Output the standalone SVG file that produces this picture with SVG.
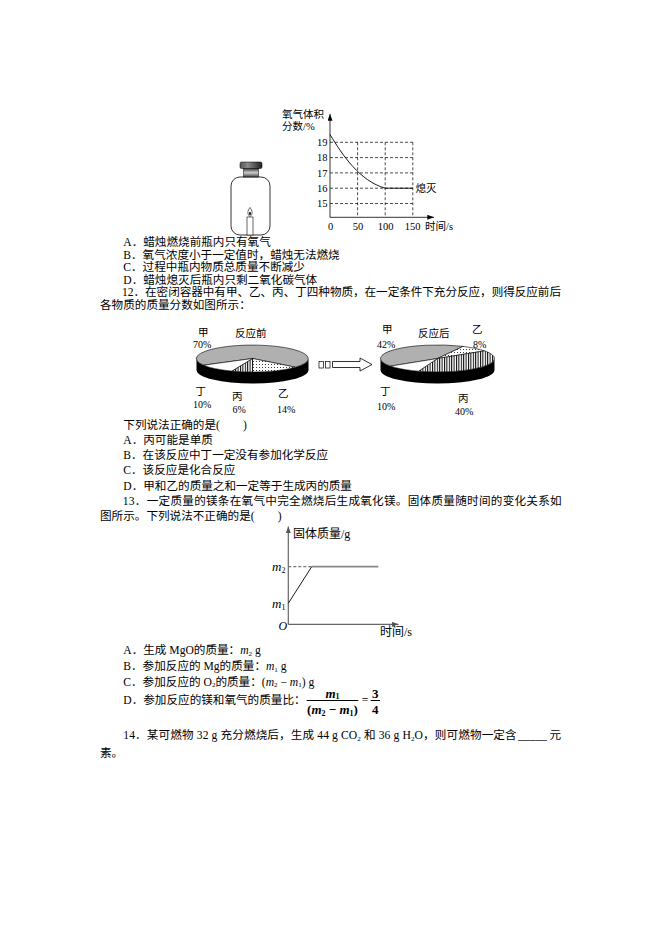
<svg xmlns="http://www.w3.org/2000/svg" width="661" height="935" viewBox="0 0 661 935">
<style>
.t{font-family:"Liberation Serif","Noto Sans CJK SC",serif;font-size:11.6px;fill:#000}
.s{font-family:"Liberation Serif","Noto Sans CJK SC",serif;font-size:10.5px;fill:#000}
.p{font-family:"Liberation Serif","Noto Sans CJK SC",serif;font-size:10px;fill:#000}
.c2{font-family:"Liberation Serif","Noto Sans CJK SC",serif;font-size:12px;fill:#000}
.f{font-family:"Liberation Serif","Noto Sans CJK SC",serif;font-size:13px;font-weight:bold;fill:#000}
.ax{stroke:#000;stroke-width:0.8;fill:none}
.grid{stroke:#000;stroke-width:0.7;stroke-dasharray:3 2;fill:none}
.ax2{stroke:#666;stroke-width:1.2;fill:none}
.sl{stroke:#000;stroke-width:0.6}
.i{font-style:italic}
</style>
<defs>
<marker id="ah" viewBox="0 0 8 6" refX="8" refY="3" markerWidth="7" markerHeight="5" markerUnits="userSpaceOnUse" orient="auto"><path d="M0,0 L8,3 L0,6 Z" fill="#000"/></marker>
<marker id="ahg" viewBox="0 0 8 6" refX="8" refY="3" markerWidth="7" markerHeight="5" markerUnits="userSpaceOnUse" orient="auto"><path d="M0,0 L8,3 L0,6 Z" fill="#555"/></marker>
<pattern id="dots" width="3" height="3" patternUnits="userSpaceOnUse"><rect width="3" height="3" fill="#fff"/><circle cx="1.5" cy="1.5" r="0.5" fill="#000"/></pattern>
<pattern id="vl" width="2.4" height="4" patternUnits="userSpaceOnUse"><rect width="2.4" height="4" fill="#fff"/><rect width="1" height="4" fill="#000"/></pattern>
<linearGradient id="capTop" x1="0" y1="0" x2="1" y2="0"><stop offset="0" stop-color="#555"/><stop offset="0.35" stop-color="#888"/><stop offset="1" stop-color="#222"/></linearGradient>
<linearGradient id="capNeck" x1="0" y1="0" x2="0" y2="1"><stop offset="0" stop-color="#333"/><stop offset="0.5" stop-color="#ccc"/><stop offset="1" stop-color="#444"/></linearGradient>
</defs>

<g id="bottle">
<rect x="231" y="177" width="39" height="58" rx="9" fill="#fff" stroke="#000" stroke-width="0.8"/>
<rect x="243.5" y="168.3" width="15" height="8.7" fill="url(#capNeck)" stroke="#000" stroke-width="0.5"/>
<rect x="240" y="162" width="22" height="6.5" rx="1.5" fill="url(#capTop)" stroke="#000" stroke-width="0.5"/>
<rect x="247" y="217" width="6" height="18" fill="#fff" stroke="#000" stroke-width="0.6"/>
<path d="M250,207.5 C252.6,211 253,214 250,216.6 C247,214 247.4,211 250,207.5 Z" fill="#fff" stroke="#000" stroke-width="0.6"/>
<ellipse cx="250" cy="213.5" rx="0.9" ry="1.8" fill="#000"/>
</g>

<g id="chart-oxygen">
<g class="grid">
<path d="M330,142.3 H412.8 M330,157.6 H412.8 M330,172.9 H412.8 M330,188.2 H412.8 M330,203.5 H412.8"/>
<path d="M357.6,142.3 V217.3 M385.2,142.3 V217.3 M412.8,142.3 V217.3"/>
</g>
<line class="ax" x1="330" y1="217.3" x2="330" y2="114" marker-end="url(#ah)"/>
<line class="ax" x1="330" y1="217.3" x2="434" y2="217.3" marker-end="url(#ah)"/>
<path d="M330,134.5 C343,156 360,181 385.2,188.2 L412.8,188.2" fill="none" stroke="#000" stroke-width="0.9"/>
<text class="s" x="282" y="118">氧气体积</text>
<text class="s" x="282" y="130">分数/%</text>
<g class="s" text-anchor="end">
<text x="327.5" y="146">19</text>
<text x="327.5" y="161.3">18</text>
<text x="327.5" y="176.6">17</text>
<text x="327.5" y="191.9">16</text>
<text x="327.5" y="207.2">15</text>
</g>
<g class="s" text-anchor="middle">
<text x="330.5" y="230">0</text>
<text x="358" y="230">50</text>
<text x="385.5" y="230">100</text>
<text x="412.5" y="230">150</text>
</g>
<text class="s" x="425" y="230">时间/s</text>
<text class="s" x="415.5" y="192">熄灭</text>
</g>

<g id="pie-before">
<path d="M308.5,358.5 A56,13.5 0 0 1 196.5,358.5 L196.5,370 A56,13.5 0 0 0 308.5,370 Z" fill="#000"/>
<path class="sl" d="M252.5,358.5 L203.5,365.2 A56,13.5 0 1 1 295.4,367.2 Z" fill="#b0b0b0"/>
<path class="sl" d="M252.5,358.5 L295.4,367.2 A56,13.5 0 0 1 252.5,372 Z" fill="url(#dots)"/>
<path class="sl" d="M252.5,358.5 L252.5,372 A56,13.5 0 0 1 231.9,371.05 Z" fill="url(#vl)"/>
<path class="sl" d="M252.5,358.5 L231.9,371.05 A56,13.5 0 0 1 203.5,365.2 Z" fill="#fff"/>
<text class="s" x="198" y="335.5">甲</text>
<text class="s" x="235" y="336.5">反应前</text>
<text class="p" x="193" y="347.5">70%</text>
<text class="s" x="195.5" y="395">丁</text>
<text class="p" x="193" y="407.5">10%</text>
<text class="s" x="232" y="399.5">丙</text>
<text class="p" x="232.5" y="413">6%</text>
<text class="s" x="278" y="396.5">乙</text>
<text class="p" x="277" y="413">14%</text>
</g>

<g id="arrow">
<rect x="319" y="361.5" width="4.5" height="6.5" fill="none" stroke="#000" stroke-width="0.7"/>
<rect x="325.5" y="361.5" width="4.5" height="6.5" fill="none" stroke="#000" stroke-width="0.7"/>
<polygon points="332.5,361.5 360,361.5 360,358 372,364.5 360,371 360,367.5 332.5,367.5" fill="#fff" stroke="#000" stroke-width="0.8"/>
</g>

<g id="pie-after">
<path d="M494.5,358.5 A57,13.5 0 0 1 380.5,358.5 L380.5,370 A57,13.5 0 0 0 494.5,370 Z" fill="#000"/>
<path class="sl" d="M437.5,358.5 L390.5,366.1 A57,13.5 0 0 1 463.1,346.4 Z" fill="#b0b0b0"/>
<path class="sl" d="M437.5,358.5 L463.1,346.4 A57,13.5 0 0 1 484.5,350.85 Z" fill="url(#dots)"/>
<path class="sl" d="M437.5,358.5 L484.5,350.85 A57,13.5 0 0 1 418.5,371.2 Z" fill="url(#vl)"/>
<path class="sl" d="M437.5,358.5 L418.5,371.2 A57,13.5 0 0 1 390.5,366.1 Z" fill="#fff"/>
<text class="s" x="382" y="333">甲</text>
<text class="s" x="418" y="336.5">反应后</text>
<text class="s" x="472" y="332.5">乙</text>
<text class="p" x="377" y="347.5">42%</text>
<text class="p" x="473" y="347.5">8%</text>
<text class="s" x="380" y="394.5">丁</text>
<text class="p" x="377" y="409.5">10%</text>
<text class="s" x="458" y="401.5">丙</text>
<text class="p" x="455" y="414.5">40%</text>
</g>

<g id="chart-mass">
<line class="ax2" x1="288.3" y1="624.3" x2="288.3" y2="526.5" marker-end="url(#ahg)"/>
<line class="ax2" x1="288.3" y1="624.3" x2="398.5" y2="624.3" marker-end="url(#ahg)"/>
<line x1="288.3" y1="566.7" x2="311.7" y2="566.7" stroke="#777" stroke-width="1.2" stroke-dasharray="3 2"/>
<line x1="311.7" y1="566.7" x2="378.3" y2="566.7" stroke="#888" stroke-width="1.8"/>
<line x1="288.3" y1="603.3" x2="311.7" y2="566.7" stroke="#000" stroke-width="0.9"/>
<text class="c2" x="293" y="537.5">固体质量/g</text>
<text class="c2" x="272" y="571"><tspan class="i" font-size="13">m</tspan><tspan font-size="8" dy="2">2</tspan></text>
<text class="c2" x="272" y="607.5"><tspan class="i" font-size="13">m</tspan><tspan font-size="8" dy="2">1</tspan></text>
<text class="c2 i" x="278.5" y="630">O</text>
<text class="c2" x="380" y="636">时间/s</text>
</g>

<g id="text">
<text class="t" x="123.3" y="246">A．蜡烛燃烧前瓶内只有氧气</text>
<text class="t" x="123.3" y="258.5">B．氧气浓度小于一定值时，蜡烛无法燃烧</text>
<text class="t" x="123.3" y="271">C．过程中瓶内物质总质量不断减少</text>
<text class="t" x="123.3" y="283.5">D．蜡烛熄灭后瓶内只剩二氧化碳气体</text>
<text class="t" x="122" y="296" textLength="439" lengthAdjust="spacing">12．在密闭容器中有甲、乙、丙、丁四种物质，在一定条件下充分反应，则得反应前后</text>
<text class="t" x="100" y="308.5">各物质的质量分数如图所示：</text>

<text class="t" x="123.3" y="429">下列说法正确的是(　　)</text>
<text class="t" x="123.3" y="443.5">A．丙可能是单质</text>
<text class="t" x="123.3" y="458.5">B．在该反应中丁一定没有参加化学反应</text>
<text class="t" x="123.3" y="474">C．该反应是化合反应</text>
<text class="t" x="123.3" y="489.5">D．甲和乙的质量之和一定等于生成丙的质量</text>
<text class="t" x="122.7" y="504.5" textLength="439" lengthAdjust="spacing">13．一定质量的镁条在氧气中完全燃烧后生成氧化镁。固体质量随时间的变化关系如</text>
<text class="t" x="100" y="520">图所示。下列说法不正确的是(　　)</text>

<text class="t" x="123.3" y="654">A．生成 MgO的质量：<tspan class="i">m</tspan><tspan font-size="7" dy="1.5">2</tspan><tspan dy="-1.5"> g</tspan></text>
<text class="t" x="123.3" y="670">B．参加反应的 Mg的质量：<tspan class="i">m</tspan><tspan font-size="7" dy="1.5">1</tspan><tspan dy="-1.5"> g</tspan></text>
<text class="t" x="123.3" y="685.5">C．参加反应的 O<tspan font-size="7" dy="1.5">2</tspan><tspan dy="-1.5">的质量：(</tspan><tspan class="i">m</tspan><tspan font-size="7" dy="1.5">2</tspan><tspan dy="-1.5"> − </tspan><tspan class="i">m</tspan><tspan font-size="7" dy="1.5">1</tspan><tspan dy="-1.5">) g</tspan></text>
<text class="t" x="123.3" y="704">D．参加反应的镁和氧气的质量比：</text>
<g id="fraction">
<text class="f" x="332.5" y="697.5" text-anchor="middle"><tspan class="i">m</tspan><tspan font-size="8" dy="1.5">1</tspan></text>
<line x1="306.7" y1="700.5" x2="358.3" y2="700.5" stroke="#000" stroke-width="1"/>
<text class="f" x="332.5" y="714" text-anchor="middle">(<tspan class="i">m</tspan><tspan font-size="8" dy="1.5">2</tspan><tspan dy="-1.5"> − </tspan><tspan class="i">m</tspan><tspan font-size="8" dy="1.5">1</tspan><tspan dy="-1.5">)</tspan></text>
<text class="t" x="365" y="704" text-anchor="middle">=</text>
<text class="f" x="375.3" y="697.5" text-anchor="middle">3</text>
<line x1="370.7" y1="700.5" x2="380" y2="700.5" stroke="#000" stroke-width="1"/>
<text class="f" x="375.3" y="714" text-anchor="middle">4</text>
</g>

<text class="t" x="123.3" y="739" textLength="393.4" lengthAdjust="spacing">14．某可燃物 32 g 充分燃烧后，生成 44 g CO<tspan font-size="7" dy="1.5">2</tspan><tspan dy="-1.5"> 和 36 g H</tspan><tspan font-size="7" dy="1.5">2</tspan><tspan dy="-1.5">O，则可燃物一定含</tspan></text>
<text class="t" x="518" y="739" textLength="29" lengthAdjust="spacingAndGlyphs">_____</text>
<text class="t" x="549.5" y="739">元</text>
<text class="t" x="100" y="756.5">素。</text>
</g>
</svg>
